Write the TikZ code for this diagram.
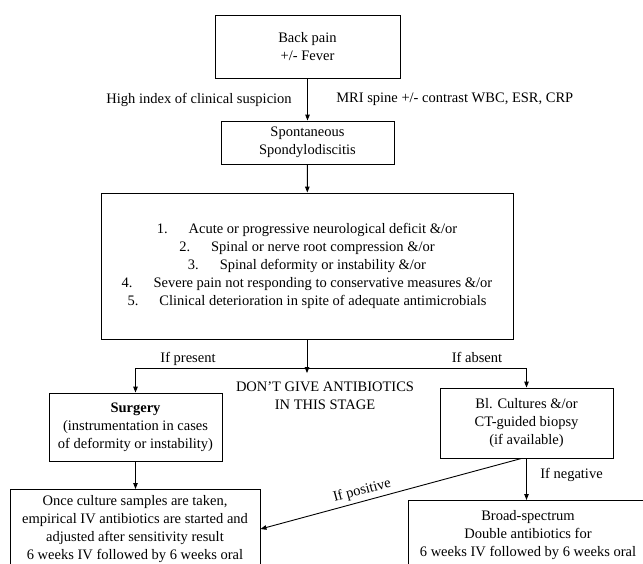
\documentclass[tikz,border=0pt]{standalone}
\usepackage{fontspec}
\setmainfont{Liberation Serif}
\usetikzlibrary{arrows.meta,positioning}

\begin{document}
\begin{tikzpicture}[x=1pt, y=-1pt,
    every node/.style={font=\fontsize{14.5}{18}\selectfont, align=center},
    block/.style={draw, line width=0.9pt, inner sep=0pt},
    flow/.style={line width=0.9pt, -{Triangle[length=6pt,width=4.5pt]}}]
    \useasboundingbox (0,0) rectangle (643,563);

    % 起点
    \node[block, minimum width=185pt, minimum height=63pt] (pain) at (307.5,46.5) {Back pain\\+/- Fever};
    \node[block, minimum width=173pt, minimum height=43pt] (spondy) at (307.5,142.5) {Spontaneous\\Spondylodiscitis};
    \draw[flow] (pain) -- (spondy)
        node[midway, left=12pt] (suspect) {High index of clinical suspicion}
        node[midway, right=25pt] (workup) {MRI spine +/- contrast WBC, ESR, CRP};

    % 手术指征
    \node[block, minimum width=412pt, minimum height=146pt] (crit) at (307,266) {%
        1.\hspace{21pt}Acute or progressive neurological deficit \&/or\\
        2.\hspace{21pt}Spinal or nerve root compression \&/or\\
        3.\hspace{21pt}Spinal deformity or instability \&/or\\
        4.\hspace{21pt}Severe pain not responding to conservative measures \&/or\\
        5.\hspace{21pt}Clinical deterioration in spite of adequate antimicrobials};
    \draw[flow] (spondy) -- (crit);

    % 分支
    \node (stage) at (325,395.5) {DON’T GIVE ANTIBIOTICS\\IN THIS STAGE};
    \coordinate (fork) at (crit.south |- 0,368);
    \draw[flow, shorten >=5pt] (crit.south) -- (crit.south |- stage.north);
    \node[block, minimum width=173pt, minimum height=68pt] (surgery) at (135.5,427) {\textbf{Surgery}\\(instrumentation in cases\\of deformity or instability)};
    \node[block, minimum width=173pt, minimum height=70pt] (cultures) at (526.5,423) {Bl. Cultures \&/or\\CT-guided biopsy\\(if available)};
    \draw[flow] (fork) -| (surgery);
    \draw[flow] (fork) -| (cultures);
    \node (present) at (188,359) {If present};
    \node (absent) at (477,357.5) {If absent};

    % 抗生素
    \node[block, minimum width=250pt, inner ysep=6pt, anchor=north] (empiric) at (135,489) {Once culture samples are taken,\\empirical IV antibiotics are started and\\adjusted after sensitivity result\\6 weeks IV followed by 6 weeks oral};
    \node[block, minimum width=240pt, inner ysep=10pt, anchor=north] (broad) at (528,500) {Broad-spectrum\\Double antibiotics for\\6 weeks IV followed by 6 weeks oral};
    \draw[flow] (surgery) -- (surgery.south |- empiric.north);
    \draw[flow] (cultures.south) -- (cultures.south |- broad.north)
        node[pos=0.4, right=10pt] (negative) {If negative};
    \draw[flow] ([xshift=-5pt]cultures.south) -- (empiric.east)
        node[pos=0.6, sloped, above] (positive) {If positive};
\end{tikzpicture}
\end{document}
